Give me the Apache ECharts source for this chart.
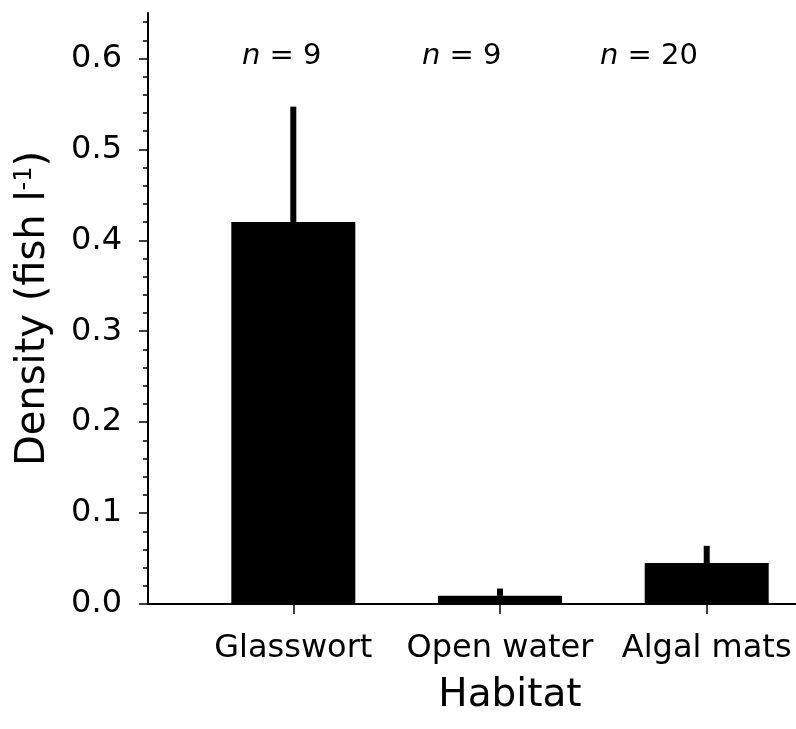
<!DOCTYPE html>
<html>
<head>
<meta charset="utf-8">
<script src="https://cdn.jsdelivr.net/npm/echarts@6/dist/echarts.min.js"></script>
<style>
  html, body { margin: 0; padding: 0; background: #fff; }
  #chart { width: 796px; height: 729px; }
</style>
</head>
<body>
<div id="chart"></div>
<script>
// Fish density by habitat (mean + SE), with sample sizes
const habitats = ['Glasswort', 'Open water', 'Algal mats'];
const habitatPos = [1, 2, 3];
const density = [0.420, 0.009, 0.045];
const densityUpper = [0.547, 0.017, 0.064];
const sampleSizes = ['9', '9', '20'];
const yMajorTicks = [0, 0.1, 0.2, 0.3, 0.4, 0.5, 0.6];
const yMinorTicks = [0.02, 0.04, 0.06, 0.08, 0.12, 0.14, 0.16, 0.18, 0.22, 0.24, 0.26, 0.28,
  0.32, 0.34, 0.36, 0.38, 0.42, 0.44, 0.46, 0.48, 0.52, 0.54, 0.56, 0.58, 0.62, 0.64];

const FONT = 'DejaVu Sans';
const chart = echarts.init(document.getElementById('chart'), null, { renderer: 'canvas' });

const barData = habitatPos.map((x, i) => [x, density[i]]);
const errData = habitatPos.map((x, i) => [x, density[i], densityUpper[i]]);

// sample-size labels along the top
const nLeft = [242, 422, 600];
const nLabels = sampleSizes.map((n, i) => ({
  type: 'text',
  left: nLeft[i],
  top: 42,
  style: {
    text: '{i|n} = ' + n,
    fill: '#000',
    font: '29px "' + FONT + '"',
    rich: { i: { fontStyle: 'italic', fontSize: 29, fontFamily: FONT, fill: '#000' } }
  }
}));

chart.setOption({
  animation: false,
  backgroundColor: '#fff',
  grid: { left: 148, right: 0, top: 13, bottom: 125, outerBoundsMode: 'none' },
  xAxis: {
    type: 'value',
    min: 0.297,
    max: 3.432,
    splitLine: { show: false },
    axisLine: { show: true, onZero: false, lineStyle: { color: '#000', width: 2 } },
    axisTick: { show: true, customValues: habitatPos, length: 10, lineStyle: { color: '#000', width: 1.5 } },
    axisLabel: {
      customValues: habitatPos,
      formatter: v => habitats[habitatPos.indexOf(Math.round(v))] || '',
      fontFamily: FONT, fontSize: 32, color: '#000', margin: 29
    },
    name: 'Habitat',
    nameLocation: 'middle',
    nameGap: 72,
    nameTextStyle: { fontFamily: FONT, fontSize: 39, color: '#000', padding: [0, 0, 0, 76] }
  },
  yAxis: [
    {
      type: 'value',
      min: 0,
      max: 0.65,
      splitLine: { show: false },
      axisLine: { show: true, lineStyle: { color: '#000', width: 2 } },
      axisTick: { show: true, customValues: yMajorTicks, length: 9, lineStyle: { color: '#000', width: 1.5 } },
      axisLabel: {
        customValues: yMajorTicks,
        formatter: v => v.toFixed(1),
        fontFamily: FONT, fontSize: 32, color: '#000', margin: 26
      },
      name: 'Density (fish l{sup|-1})',
      nameLocation: 'middle',
      nameRotate: 90,
      nameGap: 93,
      nameTextStyle: {
        fontFamily: FONT, fontSize: 40, color: '#000',
        rich: { sup: { fontFamily: FONT, fontSize: 24, color: '#000', verticalAlign: 'top', padding: [0, 0, 18, 0] } }
      }
    },
    {
      type: 'value',
      min: 0,
      max: 0.65,
      position: 'left',
      splitLine: { show: false },
      axisLine: { show: false },
      axisTick: { show: true, customValues: yMinorTicks, length: 5, lineStyle: { color: '#000', width: 1.5 } },
      axisLabel: { show: false }
    }
  ],
  series: [
    {
      type: 'custom',
      name: 'SE',
      data: errData,
      z: 1,
      renderItem: (params, api) => {
        const x = api.value(0);
        const p0 = api.coord([x, api.value(1)]);
        const p1 = api.coord([x, api.value(2)]);
        return {
          type: 'line',
          shape: { x1: p0[0], y1: p0[1], x2: p1[0], y2: p1[1] },
          style: { stroke: '#000', lineWidth: 6, lineCap: 'butt' }
        };
      }
    },
    {
      type: 'bar',
      name: 'Density',
      data: barData,
      barWidth: 124,
      z: 2,
      itemStyle: { color: '#000' }
    }
  ],
  graphic: nLabels
});
</script>
</body>
</html>
